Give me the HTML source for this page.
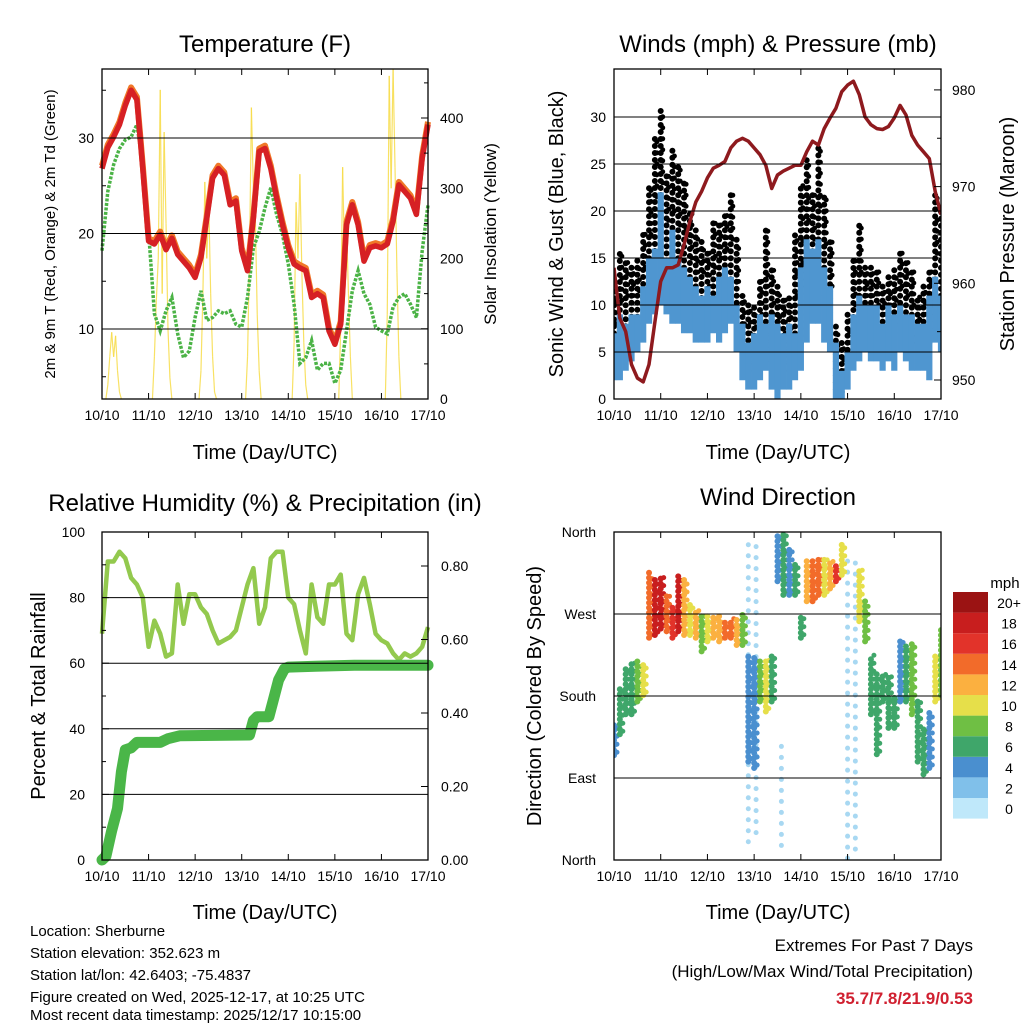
<!DOCTYPE html>
<html><head><meta charset="utf-8"><style>
html,body{margin:0;padding:0;background:#fff;}
svg{display:block;font-family:"Liberation Sans",Arial,sans-serif;}
</style></head><body>
<svg id="chart" width="1024" height="1024" viewBox="0 0 1024 1024">
<defs>
<clipPath id="clipR1"><rect x="614" y="69" width="327" height="330"/></clipPath>
<clipPath id="clipR2"><rect x="614" y="532" width="327" height="328"/></clipPath>
</defs>
<g id="layer-marks"></g>
<g id="layer-axes"></g>
<g id="layer-text">
<text x="265" y="52" font-size="24" text-anchor="middle">Temperature (F)</text>
<text x="778" y="52" font-size="24" text-anchor="middle">Winds (mph) &amp; Pressure (mb)</text>
<text x="265" y="511" font-size="24" text-anchor="middle">Relative Humidity (%) &amp; Precipitation (in)</text>
<text x="778" y="505" font-size="24" text-anchor="middle">Wind Direction</text>
<text transform="translate(55,234) rotate(-90)" font-size="15" text-anchor="middle">2m &amp; 9m T (Red, Orange) &amp; 2m Td (Green)</text>
<text transform="translate(496,234) rotate(-90)" font-size="17" text-anchor="middle">Solar Insolation (Yellow)</text>
<text transform="translate(563,234) rotate(-90)" font-size="20" text-anchor="middle">Sonic Wind &amp; Gust (Blue, Black)</text>
<text transform="translate(1014,234) rotate(-90)" font-size="20" text-anchor="middle">Station Pressure (Maroon)</text>
<text transform="translate(45,696) rotate(-90)" font-size="20" text-anchor="middle">Percent &amp; Total Rainfall</text>
<text transform="translate(541,696) rotate(-90)" font-size="20" text-anchor="middle">Direction (Colored By Speed)</text>
<text x="265" y="459" font-size="20" text-anchor="middle">Time (Day/UTC)</text>
<text x="778" y="459" font-size="20" text-anchor="middle">Time (Day/UTC)</text>
<text x="265" y="919" font-size="20" text-anchor="middle">Time (Day/UTC)</text>
<text x="778" y="919" font-size="20" text-anchor="middle">Time (Day/UTC)</text>
<text x="1005" y="588" font-size="15" text-anchor="middle">mph</text>
<g font-size="15">
<text x="30" y="936">Location: Sherburne</text>
<text x="30" y="958">Station elevation: 352.623 m</text>
<text x="30" y="980">Station lat/lon: 42.6403; -75.4837</text>
<text x="30" y="1002">Figure created on Wed, 2025-12-17, at 10:25 UTC</text>
<text x="30" y="1020">Most recent data timestamp: 2025/12/17 10:15:00</text>
</g>
<text x="973" y="951" font-size="17" text-anchor="end">Extremes For Past 7 Days</text>
<text x="973" y="977" font-size="17" text-anchor="end">(High/Low/Max Wind/Total Precipitation)</text>
<text x="973" y="1004" font-size="17" font-weight="bold" fill="#d02030" text-anchor="end">35.7/7.8/21.9/0.53</text>
</g>
</svg>
<script>
// ---- data (3-hour steps, hours since 10/10 00 UTC) ----
const hours = [0,3,6,9,12,15,18,21,24,27,30,33,36,39,42,45,48,51,54,57,60,63,66,69,72,75,78,81,84,87,90,93,96,99,102,105,108,111,114,117,120,123,126,129,132,135,138,141,144,147,150,153,156,159,162,165,168];
const tempRed = [26.8,29,30.1,31.4,33.4,35,34,26.8,19.2,18.9,19.9,18.3,19.5,17.8,17.1,16.4,15.4,17.5,21.6,25.8,26.8,26.1,23,23.4,18.2,16.1,21.6,28.6,28.9,26.8,23.7,20.9,18.5,16.8,16.4,16.1,13.3,13.7,13.3,9.8,8.4,10.5,20.9,23,20.9,17.1,18.5,18.7,18.5,18.9,21.3,25.1,24.4,23.7,22,27.9,31.4];
const tempOrange = [27.1,29.3,30.4,31.7,33.7,35.3,34.3,27.1,19.5,19.2,20.2,18.6,19.8,18.1,17.4,16.7,15.7,17.8,21.9,26.1,27.1,26.4,23.3,23.7,18.5,16.4,21.9,28.9,29.2,27.1,24,21.2,18.8,17.1,16.7,16.4,13.6,14,13.6,10.1,8.7,10.8,21.2,23.3,21.2,17.4,18.8,19,18.8,19.2,21.6,25.4,24.7,24,22.3,28.2,31.7];
const dewGreen = [18.2,24.4,27.2,28.9,29.8,30.1,31.4,27.2,20.2,11.6,9.8,11.9,13.3,9.5,7,7.7,11.2,14,10.9,11.2,11.9,11.6,11.9,10.5,10.2,13.3,18.5,20.2,22.7,24.8,22,19.9,16.8,12.6,6.4,7,8.8,5.7,6.4,6.4,4.3,5.7,9.8,14,16.1,13.7,12.6,10.2,9.8,9.5,12.3,13.3,13.7,12.6,11.2,18.2,23];
const solarHours = [2,3,4,5,6,7,8,9,10, 26,27,28,29,30,31,32,33,34,35,36, 50,51,52,53,54,55,56,57,58,59, 74,75,76,77,78,79,80,81,82, 98,99,100,101,102,103,104,105,106, 122,123,124,125,126,127,128,129, 146,147,148,149,150,151,152,153,154];
const solarVals = [0,20,60,95,60,90,40,10,0, 0,60,140,200,440,150,380,250,100,30,0, 0,40,150,309,200,280,150,60,10,0, 0,60,200,415,300,260,120,40,0, 0,80,280,200,320,180,80,20,0, 0,100,330,200,250,150,60,0, 0,120,460,300,470,330,180,60,0];
const pressure = [961.6,956.4,955,951.6,950.2,949.8,951.6,956,960.2,961.6,961.6,961.9,964,966.4,968.4,969.5,970.9,971.9,972.2,972.6,974,974.7,975,974.7,974,973.3,972.2,969.8,971.2,971.6,971.9,972.2,972.2,973.6,974.7,974.3,976,977.1,978.1,979.8,980.5,980.9,979.5,977.2,976.4,976,975.9,976.2,977.1,978.4,977.4,975.3,974.3,973.6,972.9,969.5,967.1];
const windLow = [2,2,3,4,5,6,8,9,10,9,8,8,7,7,6,6,6,7,6,7,8,5,2,1,1,2,3,1,0,1,1,2,3,6,8,8,6,5,0,0,1,3,4,5,4,4,3,4,3,5,4,3,3,3,2,6,5];
const windHigh = [7,9,8,9,9,12,15,16,22,15,18,15,14,13,12,11,12,11,13,14,13,10,8,6,7,9,8,9,8,7,8,7,14,17,16,17,14,12,6,3,5,9,11,10,10,10,8,10,9,10,9,9,8,8,11,13,11];
const gustLow = [4,5,7,8,8,10,12,15,15,14,13,12,11,10,9,10,8,9,11,12,12,8,5,4,3,5,6,4,3,3,4,4,6,12,12,14,11,7,1,0,3,5,8,8,8,6,6,7,7,8,7,6,6,6,6,9,8];
const gustHigh = [12,16,15,14,15,18,23,28,31,24,27,25,23,20,18,17,16,19,19,20,22,17,11,10,10,13,18,14,12,11,11,18,23,26,22,27,22,17,8,6,9,15,19,14,14,14,12,13,14,16,15,14,11,12,14,22,20];
const rhPct = [69,91,91,94,92,86,84,80,65,73,69,62,63,84,72,81,81,77,75,70,66,67,68,70,77,84,89,72,77,92,94,94,80,78,70,63,84,74,72,84,84,87,69,67,81,86,78,69,67,66,63,61,63,62,63,65,71];
const precipHours = [0,2,5,8,10,12,15,18,30,34,40,76,78,80,86,88,91,94,96,110,130,168];
const precipIn = [0,0.01,0.08,0.14,0.24,0.30,0.305,0.32,0.32,0.33,0.338,0.34,0.38,0.39,0.39,0.43,0.49,0.52,0.525,0.527,0.53,0.53];
const dirLow = [115,138,160,160,174,181,244,247,254,251,244,251,247,247,244,229,240,244,240,244,244,236,236,108,101,174,163,174,306,291,291,291,244,284,284,291,291,298,306,313,null,null,262,240,160,116,174,145,145,174,174,160,108,94,101,174,181];
const dirHigh = [150,189,211,218,218,218,317,310,310,291,280,313,310,280,276,269,269,269,269,262,265,265,269,225,225,218,222,225,357,357,342,328,269,328,328,331,331,328,324,350,null,null,320,284,225,207,204,204,182,244,236,240,174,145,163,225,254];
const dirSpeed = [4,5,6,6,7,9,14,17,17,14,15,17,12,10,11,8,9,11,12,14,13,12,8,3,4,8,9,6,4,5,4,5,6,12,14,13,10,12,16,10,null,null,9,8,5,6,6,6,5,4,6,7,5,6,4,10,8];
const sparseHours = [69,73,86,120,124];
const sparseLow = [20,30,16,2,12];
const sparseHigh = [353,350,126,328,330];
const speedClasses = ["0","2","4","6","8","10","12","14","16","18","20+"];
const tempTicks = [10,20,30];
const solarTicks = [0,100,200,300,400];
const windTicks = [0,5,10,15,20,25,30];
const pressTicks = [950,960,970,980];
const rhTicks = [0,20,40,60,80,100];
const precipTicks = ["0.00","0.20","0.40","0.60","0.80"];
const dirTicks = ["North","East","South","West","North"];
const dayLabels = ["10/10","11/10","12/10","13/10","14/10","15/10","16/10","17/10"];

// ---- scales ----
const NS="http://www.w3.org/2000/svg";
const marks=document.getElementById('layer-marks');
const axesG=document.getElementById('layer-axes');
function mk(parent,tag,attrs){const e=document.createElementNS(NS,tag);for(const k in attrs)e.setAttribute(k,attrs[k]);parent.appendChild(e);return e;}
const L={x0:102,x1:428}, R={x0:614,x1:941};
function xs(p,t){return p.x0+t/168*(p.x1-p.x0);}
const yTemp=v=>329-(v-10)*9.55;
const ySolar=v=>399-v*0.7025;
const yWind=v=>399-v*9.4;
const yPress=v=>380-(v-950)*9.67;
const yRH=v=>860-v*3.28;
const yPrec=v=>860-v*367.5;
const yDir=v=>860-v*0.9111;
const speedColors=["#bfe8fa","#80c0ea","#4a8fcf","#3fa66a","#6fbf44","#e6df4a","#fbb040","#f26b2a","#e2332a","#c81e1e","#9b1313"];
function speedColor(s){return speedColors[Math.min(10,Math.round(s/2))];}
function pathFrom(xArr,yArr,p,yf){let d="";for(let i=0;i<xArr.length;i++){if(yArr[i]==null)continue;d+=(d?"L":"M")+xs(p,xArr[i]).toFixed(1)+","+yf(yArr[i]).toFixed(1);}return d;}

function grid(p,y){const g=mk(axesG,'line',{x1:p.x0,x2:p.x1,y1:y,y2:y,stroke:'#000','stroke-width':1});

}

// ---- Temperature panel ----
let el;
for(let i=0;i<solarHours.length-1;i++){
 if(solarHours[i+1]-solarHours[i]>1)continue;
 el=mk(marks,'line',{x1:xs(L,solarHours[i]),y1:ySolar(solarVals[i]),x2:xs(L,solarHours[i+1]),y2:ySolar(solarVals[i+1]),stroke:'#f7dc4a','stroke-width':1.2,opacity:0.85});
 
 
}
tempTicks.forEach(v=>grid(L,yTemp(v)));
el=mk(marks,'path',{d:pathFrom(hours,dewGreen,L,yTemp),fill:'none',stroke:'#4bb346','stroke-width':3.5,'stroke-dasharray':'3 1.5'});


el=mk(marks,'path',{d:pathFrom(hours,tempOrange,L,yTemp),fill:'none',stroke:'#f07828','stroke-width':6,'stroke-linejoin':'round'});


el=mk(marks,'path',{d:pathFrom(hours,tempRed,L,yTemp),fill:'none',stroke:'#d62024','stroke-width':5.5,'stroke-linejoin':'round'});



// ---- Winds panel ----
const windG=mk(marks,'g',{'clip-path':'url(#clipR1)'});


windTicks.forEach(v=>{if(v>0)grid(R,yWind(v));});
for(let i=0;i<hours.length;i++){
 el=mk(windG,'line',{x1:xs(R,hours[i]),x2:xs(R,hours[i]),y1:yWind(gustLow[i]),y2:yWind(gustHigh[i]),stroke:'#000','stroke-width':6,'stroke-linecap':'round','stroke-dasharray':'0 7'});
 
 
}
for(let i=0;i<hours.length;i++){
 el=mk(windG,'line',{x1:xs(R,hours[i])+2,x2:xs(R,hours[i])+2,y1:yWind((gustLow[i]+gustHigh[i])/2),y2:yWind(gustHigh[i]),stroke:'#000','stroke-width':5,'stroke-linecap':'round','stroke-dasharray':'0 11'});
 
 
}
for(let i=0;i<hours.length;i++){
 el=mk(windG,'line',{x1:xs(R,hours[i]),x2:xs(R,hours[i]),y1:yWind(windLow[i]),y2:yWind(windHigh[i]),stroke:'#4f96d0','stroke-width':6.2});
 
 
}
el=mk(windG,'path',{d:pathFrom(hours,pressure,R,yPress),fill:'none',stroke:'#8e1a1e','stroke-width':3.5,'stroke-linejoin':'round'});



// ---- Humidity panel ----
[20,40,60,80].forEach(v=>grid(L,yRH(v)));
el=mk(marks,'path',{d:pathFrom(hours,rhPct,L,yRH),fill:'none',stroke:'#93c94e','stroke-width':4.5,'stroke-linejoin':'round'});


el=mk(marks,'path',{d:pathFrom(precipHours,precipIn,L,yPrec),fill:'none',stroke:'#4ab648','stroke-width':11,'stroke-linejoin':'round','stroke-linecap':'round'});



// ---- Direction panel ----
const dirG=mk(marks,'g',{'clip-path':'url(#clipR2)'});


[90,180,270].forEach(v=>grid(R,yDir(v)));
for(let i=0;i<sparseHours.length;i++){
 el=mk(dirG,'line',{x1:xs(R,sparseHours[i]),x2:xs(R,sparseHours[i]),y1:yDir(sparseLow[i]),y2:yDir(sparseHigh[i]),stroke:'#a8d8f2','stroke-width':5,'stroke-linecap':'round','stroke-dasharray':'0 11'});
 
 
}
for(let i=0;i<hours.length;i++){
 if(dirLow[i]==null)continue;
 el=mk(dirG,'line',{x1:xs(R,hours[i]),x2:xs(R,hours[i]),y1:yDir(dirLow[i]),y2:yDir(dirHigh[i]),stroke:speedColor(dirSpeed[i]),'stroke-width':6,'stroke-linecap':'round','stroke-dasharray':'0 5'});
 
 
 el=mk(dirG,'line',{x1:xs(R,hours[i])+3,x2:xs(R,hours[i])+3,y1:yDir(dirLow[i])-3,y2:yDir(dirHigh[i]),stroke:speedColor(dirSpeed[i]),'stroke-width':5,'stroke-linecap':'round','stroke-dasharray':'0 8'});
 
 
}

// ---- frames, ticks, labels ----
function frame(p,y0,y1,name){el=mk(axesG,'rect',{x:p.x0,y:y0,width:p.x1-p.x0,height:y1-y0,fill:'none',stroke:'#000','stroke-width':1.3});


for(let d=0;d<=7;d++){const x=xs(p,d*24);
 el=mk(axesG,'line',{x1:x,x2:x,y1:y1,y2:y1-6,stroke:'#000','stroke-width':1});
 
 
 el=mk(axesG,'line',{x1:x,x2:x,y1:y0,y2:y0+6,stroke:'#000','stroke-width':1});
 
 
 el=mk(axesG,'text',{x:x,y:y1+21,'font-size':14,'text-anchor':'middle'});el.textContent=dayLabels[d];
 
 
}}
function ytick(x,y,dir,len,label,anchor,lx){el=mk(axesG,'line',{x1:x,x2:x+dir*len,y1:y,y2:y,stroke:'#000','stroke-width':1});
 
 
 if(label!=null){el=mk(axesG,'text',{x:lx,y:y+5,'font-size':14,'text-anchor':anchor});el.textContent=label;
 
 }}
frame(L,69,399,'temperature-plot-frame');
frame(R,69,399,'winds-plot-frame');
frame(L,532,860,'humidity-plot-frame');
frame(R,532,860,'direction-plot-frame');
tempTicks.forEach(v=>ytick(102,yTemp(v),1,7,String(v),'end',94));
[5,15,25,35].forEach(v=>ytick(102,yTemp(v),1,4,null));
solarTicks.forEach(v=>ytick(428,ySolar(v),-1,7,String(v),'start',440));
[50,150,250,350,450].forEach(v=>ytick(428,ySolar(v),-1,4,null));
windTicks.forEach(v=>ytick(614,yWind(v),1,7,String(v),'end',606));
pressTicks.forEach(v=>ytick(941,yPress(v),-1,7,String(v),'start',952));
[955,965,975].forEach(v=>ytick(941,yPress(v),-1,4,null));
rhTicks.forEach(v=>ytick(102,yRH(v),1,7,String(v),'end',85));
[10,30,50,70,90].forEach(v=>ytick(102,yRH(v),1,4,null));
precipTicks.forEach(v=>ytick(428,yPrec(parseFloat(v)),-1,7,v,'start',441));
dirTicks.forEach((v,i)=>ytick(614,yDir(i*90),1,7,v,'end',596));

// colorbar
for(let i=0;i<speedClasses.length;i++){
 const y=592+(10-i)*20.6;
 el=mk(axesG,'rect',{x:953,y:y,width:35,height:20.6,fill:speedColors[i]});
 
 
 el=mk(axesG,'text',{x:1009,y:y+16,'font-size':14,'text-anchor':'middle'});el.textContent=speedClasses[i];
 
 
}
</script>
</body></html>
